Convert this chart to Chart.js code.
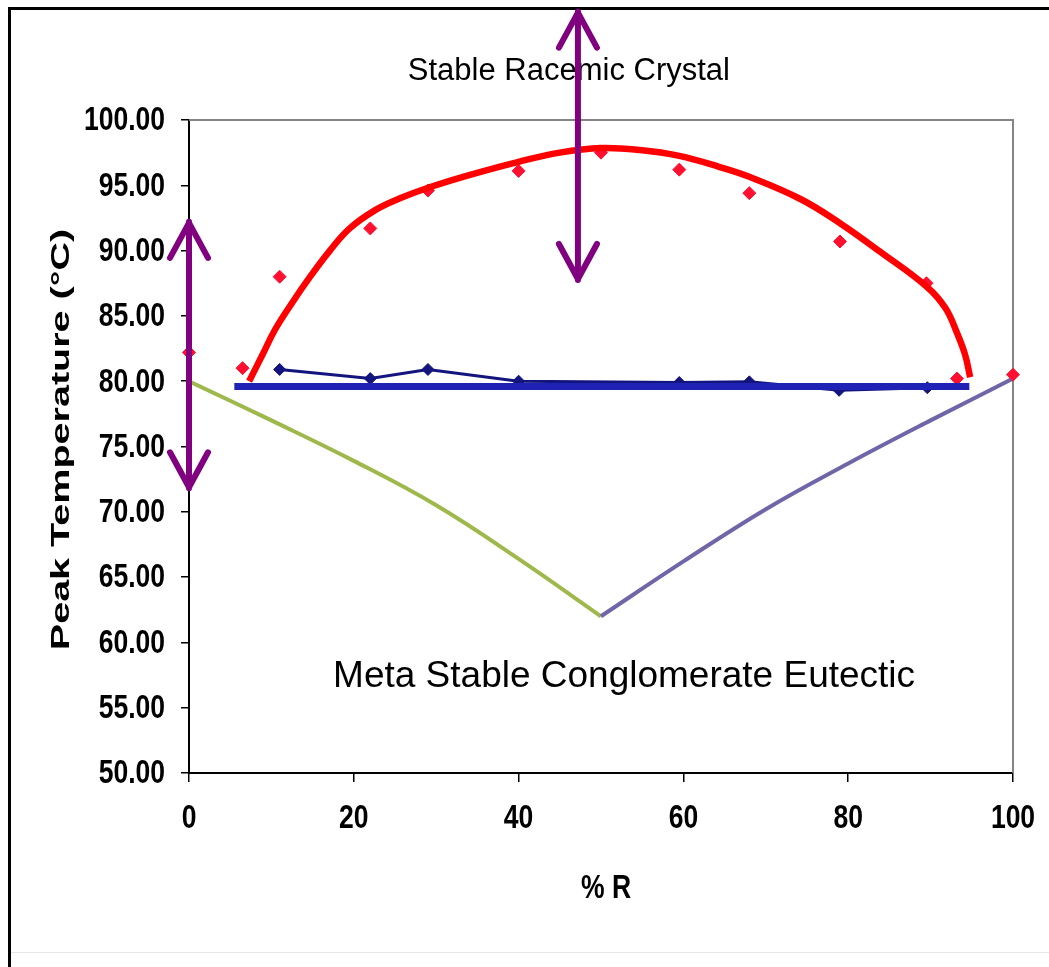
<!DOCTYPE html>
<html>
<head>
<meta charset="utf-8">
<script src="https://cdn.jsdelivr.net/npm/chart.js@4.4.1/dist/chart.umd.min.js"></script>
<style>
  body { margin: 0; background: #fff; }
  canvas { display: block; }
</style>
</head>
<body>
<canvas id="phaseChart" width="1049" height="967"></canvas>
<script>
// measured peak temperatures (red diamonds)
const meltX = [0, 6.5, 11, 22, 29, 40, 50, 59.5, 68, 79, 89.5, 93.2, 100];
const meltY = [82.2, 81.0, 88.0, 91.7, 94.6, 96.1, 97.5, 96.2, 94.4, 90.7, 87.5, 80.2, 80.5];

// second (eutectic) peak, navy line
const eutX = [11, 22, 29, 40, 59.5, 68, 78.9, 89.6];
const eutY = [80.9, 80.2, 80.9, 80.0, 79.9, 79.95, 79.3, 79.5];

// hand drawn racemic curve
const curveX = [7.3, 8.9, 10.4, 12.3, 14.7, 17.1, 19.5, 22.6, 25.6, 29.2, 34.1, 40.0, 45.0, 50.0,
    54.7, 59.5, 64.4, 68.0, 74.2, 79.0, 83.9, 89.6, 91.8, 93.2, 94.2, 94.8];
const curveY = [80.0, 82.0, 83.9, 85.8, 88.0, 90.0, 91.7, 93.1, 94.0, 94.85, 95.8, 96.8, 97.5, 97.85,
    97.7, 97.25, 96.4, 95.65, 93.95, 92.1, 89.9, 87.2, 85.6, 83.7, 82.0, 80.3];

// hand drawn eutectic line
const eutLineX = [5.5, 94.7];
const eutLineY = [79.6, 79.6];

// conglomerate branches
const leftX = [0, 10, 20, 30, 40, 50];
const leftY = [80.0, 77.0, 73.9, 70.5, 66.4, 62.0];
const rightX = [50, 60, 70, 80, 90, 100];
const rightY = [62.0, 66.2, 70.2, 73.7, 77.0, 80.2];

// axis ticks
const xTicks = [0, 20, 40, 60, 80, 100];
const yTicks = [50, 55, 60, 65, 70, 75, 80, 85, 90, 95, 100];

// double arrows (data units)
const arrowX = [0, 47.2];
const arrowTop = [92.2, 108.3];
const arrowBottom = [71.8, 87.75];

// annotation texts
const noteText = ['Stable Racemic Crystal', 'Meta Stable Conglomerate Eutectic'];
const noteX = [46.1, 52.8];
const noteY = [103.7, 57.4];
const noteSize = [31, 37];

const yTitle = 'Peak Temperature (\u00b0C)';
const xTitle = '% R';

function pts(xs, ys) {
    return xs.map((x, i) => ({ x: x, y: ys[i] }));
}

// narrow bold text, the source looks squeezed
function narrowText(ctx, text, x, y, align) {
    ctx.save();
    ctx.translate(x, y);
    ctx.scale(0.78, 1);
    ctx.textAlign = align;
    ctx.fillText(text, 0, 0);
    ctx.restore();
}

const overlay = {
    id: 'overlay',
    beforeDraw(chart) {
        const ctx = chart.ctx;
        ctx.save();
        ctx.fillStyle = '#fff';
        ctx.fillRect(0, 0, chart.width, chart.height);
        // outer frame
        ctx.strokeStyle = '#000';
        ctx.lineWidth = 3;
        ctx.beginPath();
        ctx.moveTo(9.5, chart.height);
        ctx.lineTo(9.5, 8.5);
        ctx.lineTo(chart.width, 8.5);
        ctx.stroke();
        ctx.strokeStyle = '#e6e6e6';
        ctx.lineWidth = 1;
        ctx.beginPath();
        ctx.moveTo(11, 952.5);
        ctx.lineTo(chart.width, 952.5);
        ctx.stroke();
        ctx.restore();
    },
    beforeDatasetsDraw(chart) {
        const ctx = chart.ctx;
        const a = chart.chartArea;
        ctx.save();
        ctx.strokeStyle = '#858585';
        ctx.lineWidth = 2;
        ctx.beginPath();
        ctx.moveTo(a.left, a.top);
        ctx.lineTo(a.right, a.top);
        ctx.lineTo(a.right, a.bottom);
        ctx.stroke();
        ctx.restore();
    },
    afterDraw(chart) {
        const ctx = chart.ctx;
        const a = chart.chartArea;
        const xs = chart.scales.x;
        const ys = chart.scales.y;
        ctx.save();
        ctx.fillStyle = '#000';
        ctx.textAlign = 'center';
        ctx.textBaseline = 'middle';

        // tick labels
        ctx.font = "bold 34px 'Liberation Sans', Arial, sans-serif";
        yTicks.forEach(v => {
            narrowText(ctx, v.toFixed(2), a.left - 24, ys.getPixelForValue(v) + 1, 'right');
        });
        xTicks.forEach(v => {
            narrowText(ctx, String(v), xs.getPixelForValue(v), a.bottom + 46, 'center');
        });

        // y axis title, stretched like the source
        ctx.save();
        ctx.translate(62, (a.top + a.bottom) / 2 - 7);
        ctx.rotate(-Math.PI / 2);
        ctx.scale(1.52, 1);
        ctx.font = "bold 26px 'Liberation Sans', Arial, sans-serif";
        ctx.fillText(yTitle, 0, 0);
        ctx.restore();

        // x axis title
        ctx.font = "bold 34px 'Liberation Sans', Arial, sans-serif";
        narrowText(ctx, xTitle, (a.left + a.right) / 2 + 5, a.bottom + 116, 'center');

        // notes
        noteText.forEach((t, i) => {
            ctx.font = noteSize[i] + "px 'Liberation Sans', Arial, sans-serif";
            ctx.fillText(t, xs.getPixelForValue(noteX[i]), ys.getPixelForValue(noteY[i]));
        });

        // purple double arrows
        ctx.strokeStyle = '#800080';
        ctx.lineWidth = 6;
        ctx.lineCap = 'round';
        ctx.lineJoin = 'round';
        arrowX.forEach((x, i) => {
            const px = xs.getPixelForValue(x);
            const top = ys.getPixelForValue(arrowTop[i]);
            const bot = ys.getPixelForValue(arrowBottom[i]);
            ctx.beginPath();
            ctx.moveTo(px, top);
            ctx.lineTo(px, bot);
            ctx.moveTo(px - 19, top + 36);
            ctx.lineTo(px, top + 1);
            ctx.lineTo(px + 19, top + 36);
            ctx.moveTo(px - 19, bot - 36);
            ctx.lineTo(px, bot - 1);
            ctx.lineTo(px + 19, bot - 36);
            ctx.stroke();
        });
        ctx.restore();
    }
};

const ctx = document.getElementById('phaseChart').getContext('2d');

new Chart(ctx, {
    type: 'scatter',
    data: {
        datasets: [
            {
                label: 'left branch',
                data: pts(leftX, leftY),
                showLine: true,
                borderColor: '#9fb84c',
                borderWidth: 4,
                pointRadius: 0,
                tension: 0.4,
                order: 6,
            },
            {
                label: 'right branch',
                data: pts(rightX, rightY),
                showLine: true,
                borderColor: '#6e66a8',
                borderWidth: 4,
                pointRadius: 0,
                tension: 0.4,
                order: 5,
            },
            {
                label: 'eutectic peak',
                data: pts(eutX, eutY),
                showLine: true,
                borderColor: '#14147e',
                backgroundColor: '#14147e',
                borderWidth: 3,
                pointStyle: 'rectRot',
                pointRadius: 6,
                pointBorderWidth: 1,
                order: 4,
            },
            {
                label: 'melting peak',
                data: pts(meltX, meltY),
                showLine: false,
                borderColor: '#ff1030',
                backgroundColor: '#ff1030',
                pointStyle: 'rectRot',
                pointRadius: 6.5,
                pointBorderWidth: 1,
                clip: false,
                order: 3,
            },
            {
                label: 'eutectic line',
                data: pts(eutLineX, eutLineY),
                showLine: true,
                borderColor: '#1f22b4',
                borderWidth: 7,
                borderCapStyle: 'butt',
                pointRadius: 0,
                order: 2,
            },
            {
                label: 'racemic curve',
                data: pts(curveX, curveY),
                showLine: true,
                borderColor: '#ff0000',
                borderWidth: 6.5,
                borderCapStyle: 'butt',
                tension: 0.4,
                pointRadius: 0,
                order: 1,
            },
        ]
    },
    options: {
        responsive: false,
        animation: false,
        events: [],
        layout: { padding: { left: 0, top: 120, right: 36, bottom: 0 } },
        plugins: {
            legend: { display: false },
            tooltip: { enabled: false },
        },
        scales: {
            x: {
                type: 'linear',
                min: 0,
                max: 100,
                ticks: { stepSize: 20, display: false },
                grid: { drawOnChartArea: false, color: '#000', tickLength: 9, lineWidth: 1.5 },
                border: { color: '#000', width: 2 },
                afterFit(scale) { scale.height = 194; },
            },
            y: {
                type: 'linear',
                min: 50,
                max: 100,
                ticks: { stepSize: 5, display: false },
                grid: { drawOnChartArea: false, color: '#000', tickLength: 8, lineWidth: 1.5 },
                border: { color: '#000', width: 2 },
                afterFit(scale) { scale.width = 189; },
            },
        },
    },
    plugins: [overlay],
});
</script>
</body>
</html>
